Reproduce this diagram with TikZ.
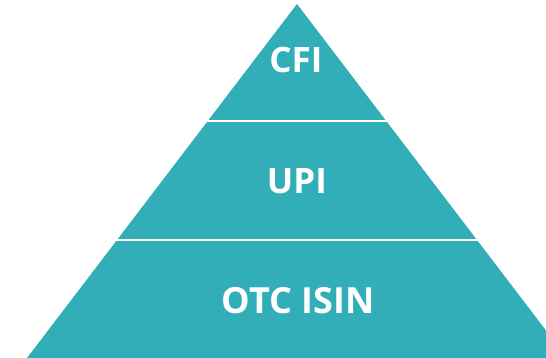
\documentclass[tikz,border=0pt]{standalone}
\usepackage{fontspec}
\setmainfont{Open Sans}
\definecolor{teal}{RGB}{49,174,184}
\tikzset{
  lbl/.style={text=white, inner sep=0pt, anchor=center},
  gap/.style={draw=white, line width=2.6pt}
}
\begin{document}
\begin{tikzpicture}[x=1pt,y=1pt]
\useasboundingbox (0,0) rectangle (546,358);
\clip (0,0) rectangle (546,358);
\fill[teal] (297,354) -- (567,0) -- (27,0) -- cycle;
\coordinate (g1l) at (150,237);
\coordinate (g1r) at (450,237);
\coordinate (g2l) at (50,118);
\coordinate (g2r) at (546,118);
\draw[gap] (g1l) -- (g1r);
\draw[gap] (g2l) -- (g2r);
\node[lbl, font=\fontsize{35}{40}\bfseries\selectfont] (cfi) at (296,297.5) {CFI};
\node[lbl, font=\fontsize{35}{40}\bfseries\selectfont] (upi) at (297,177) {UPI};
\node[lbl, font=\fontsize{36}{42}\bfseries\selectfont] (otc) at (298,57) {OTC ISIN};
\end{tikzpicture}
\end{document}
